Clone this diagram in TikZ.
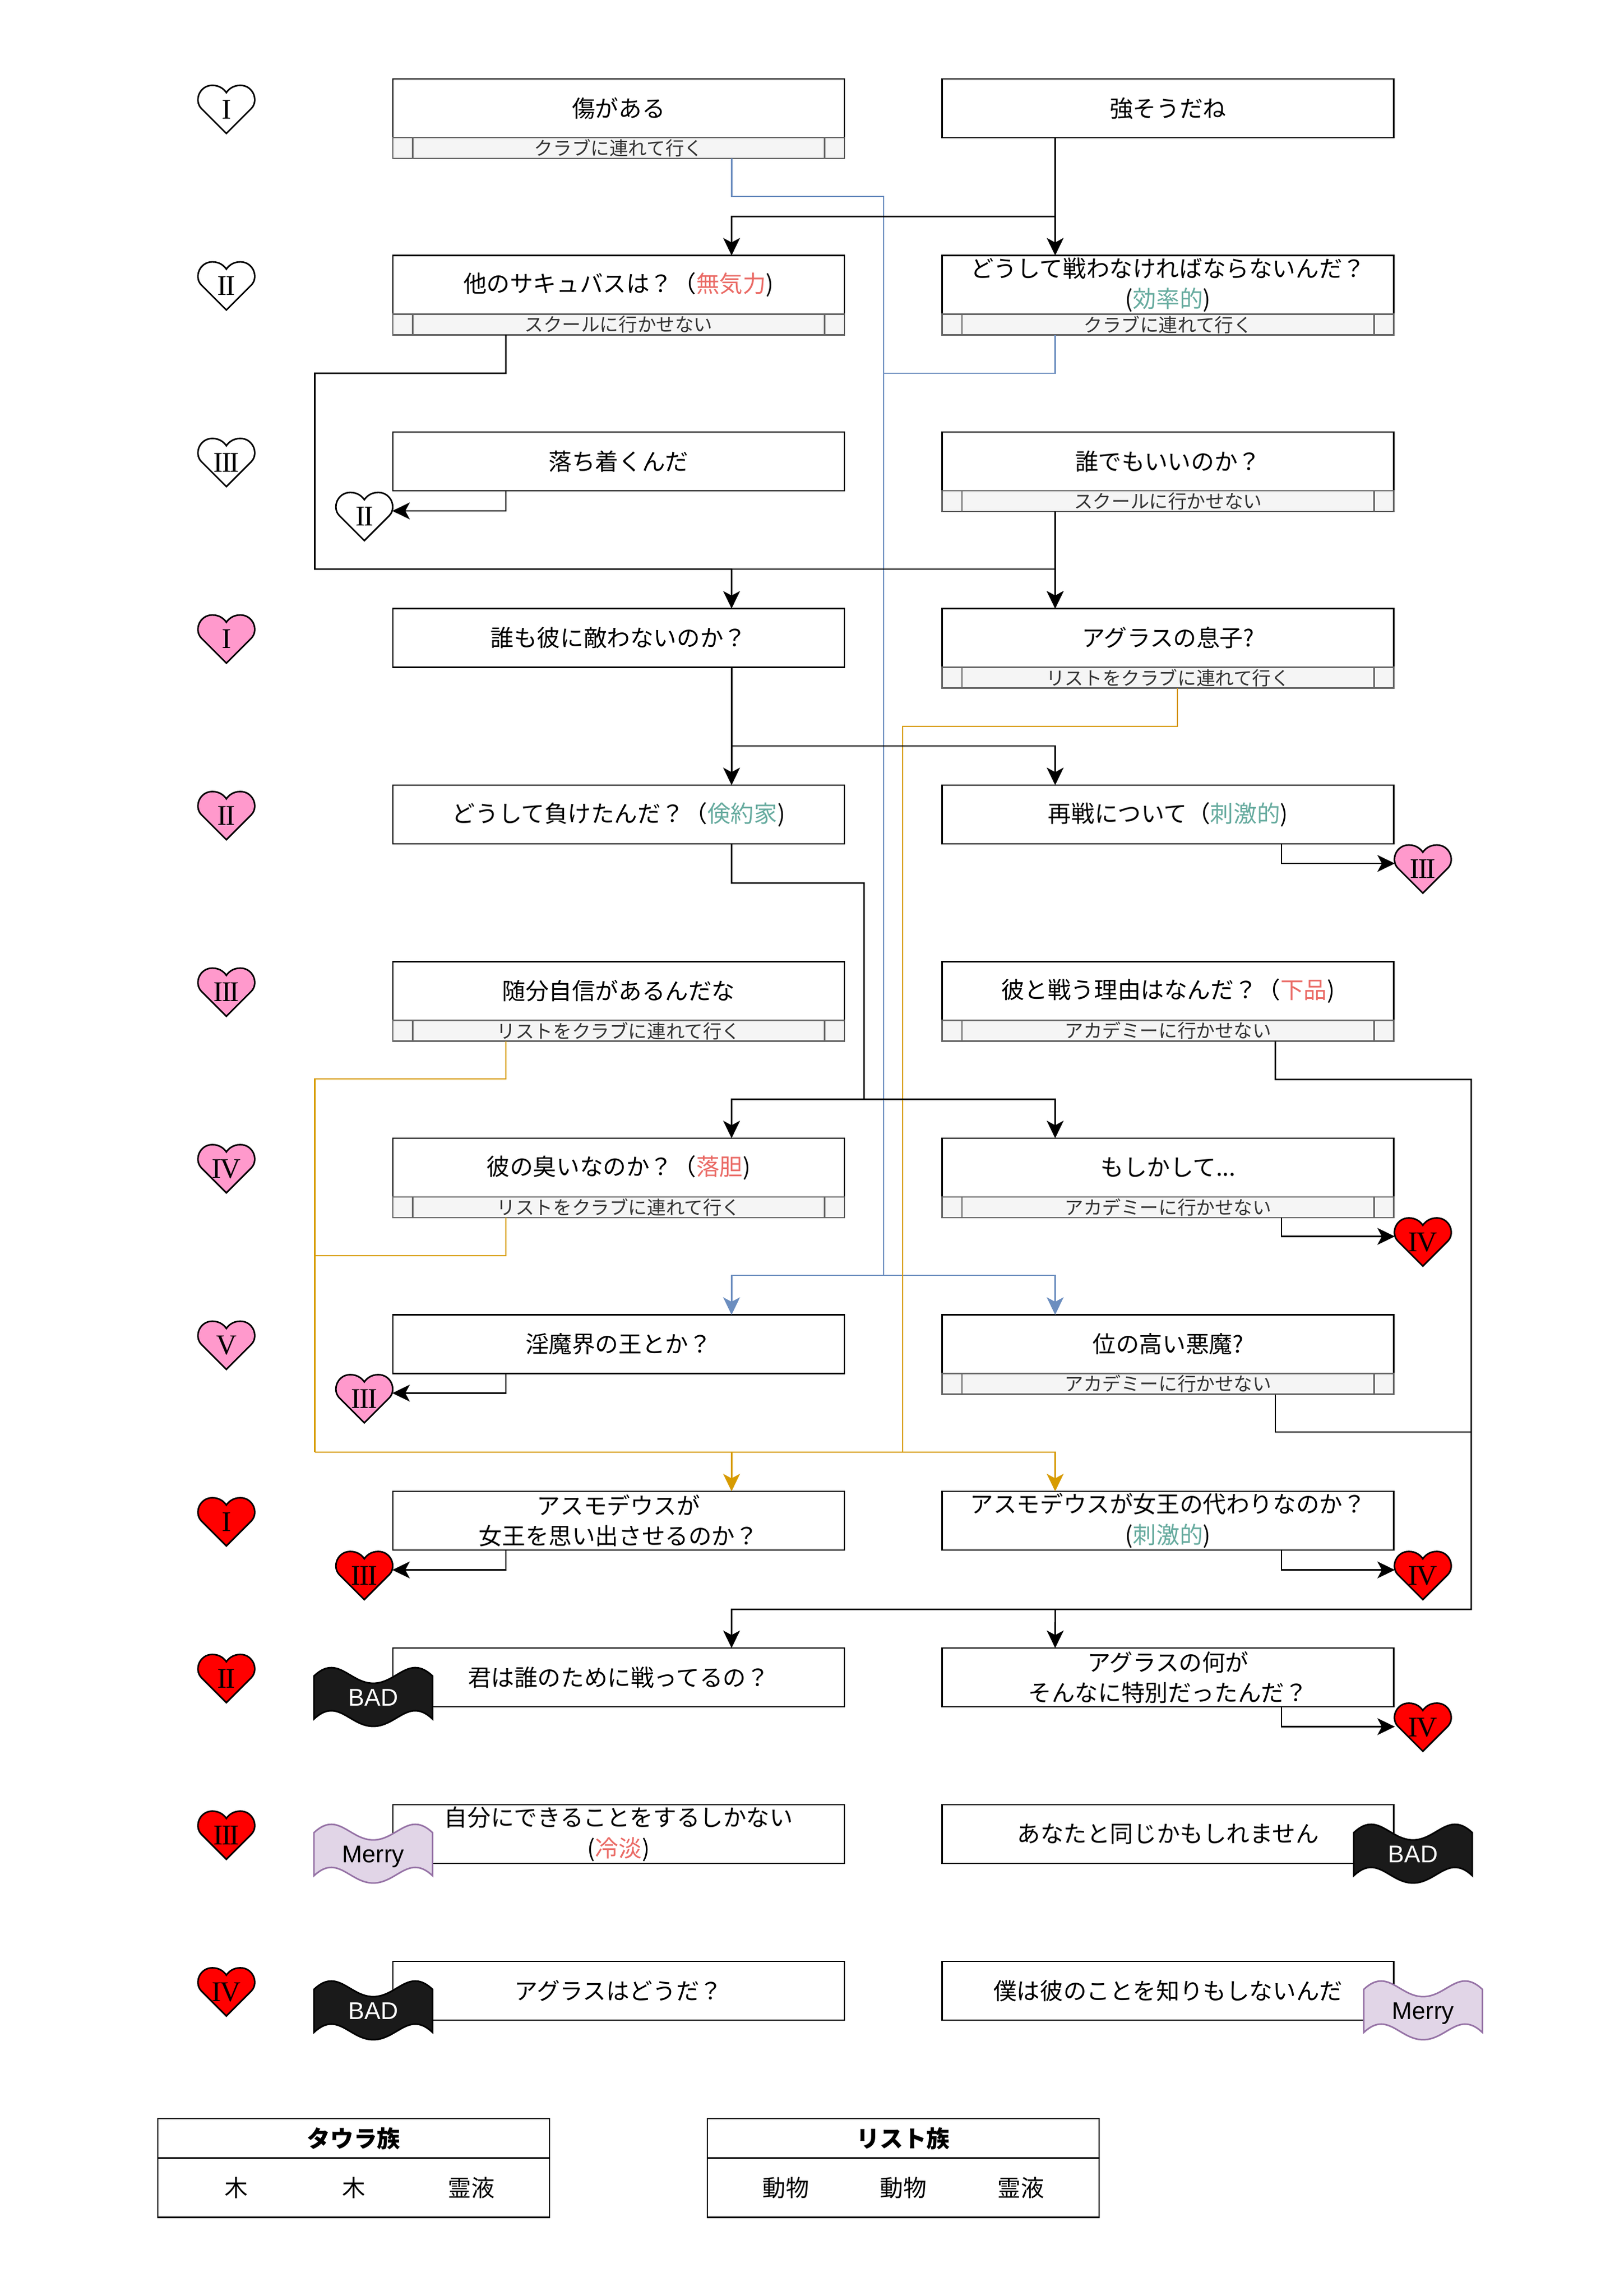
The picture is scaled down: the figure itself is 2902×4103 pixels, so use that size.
\documentclass[tikz,border=0pt]{standalone}
\usepackage{fontspec}
\usetikzlibrary{arrows.meta,positioning}
\newfontfamily\jpfont{Noto Sans CJK JP}
\newfontfamily\numfont{Liberation Serif}[LetterSpace=-4]
\newfontfamily\tagfont{Liberation Sans}

\definecolor{stripfill}{HTML}{F5F5F5}
\definecolor{stripline}{HTML}{666666}
\definecolor{striptext}{HTML}{333333}
\definecolor{linkblue}{HTML}{6C8EBF}
\definecolor{linkorange}{HTML}{D79B00}
\definecolor{heartpink}{HTML}{FF99CC}
\definecolor{heartred}{HTML}{FF0000}
\definecolor{moodteal}{HTML}{67AB9F}
\definecolor{moodred}{HTML}{EA6B66}
\definecolor{badfill}{HTML}{1A1A1A}
\definecolor{merryfill}{HTML}{E1D5E7}
\definecolor{merryline}{HTML}{9673A6}

\tikzset{
  box/.style={draw, line width=.7pt, outer sep=0pt, inner sep=0pt,
    minimum width=201.75pt, minimum height=26.25pt, align=center,
    font=\jpfont\fontsize{10.4pt}{13.6pt}\selectfont},
  strip/.style={draw=stripline, fill=stripfill, line width=.7pt, outer sep=0pt,
    inner sep=0pt, minimum width=201.75pt, minimum height=9.25pt, text=striptext,
    font=\jpfont\fontsize{8.4pt}{9pt}\selectfont,
    path picture={
      \draw[stripline, line width=.7pt] ([xshift=8.8pt]path picture bounding box.north west)
        -- ([xshift=8.8pt]path picture bounding box.south west);
      \draw[stripline, line width=.7pt] ([xshift=-8.8pt]path picture bounding box.north east)
        -- ([xshift=-8.8pt]path picture bounding box.south east);}},
  heartlabel/.style={inner sep=0pt, text depth=0pt,
    font=\numfont\fontsize{12.75pt}{14pt}\selectfont},
  taglabel/.style={inner sep=0pt, text depth=0pt,
    font=\tagfont\fontsize{10.8pt}{12pt}\selectfont},
  pics/heartpic/.style 2 args={code={
    \filldraw[fill=#1, line width=.7pt] (0,43) -- (-45,-2)
      .. controls (-58,-16) and (-48,-43) .. (-25,-43)
      .. controls (-12,-43) and (-4,-36) .. (0,-30)
      .. controls (4,-36) and (12,-43) .. (25,-43)
      .. controls (48,-43) and (58,-16) .. (45,-2) -- cycle;
    \node[heartlabel] (-n) at (0,0) {#2};}},
  pics/tape/.style n args={4}{code={
    \filldraw[fill=#1, draw=#2, line width=.7pt] (-106,-38.5)
      .. controls (-63.6,-78.5) and (-42.4,-25.5) .. (0,-25.5)
      .. controls (42.4,-25.5) and (63.6,-78.5) .. (106,-38.5) -- (106,38.5)
      .. controls (63.6,-1.5) and (42.4,51.5) .. (0,51.5)
      .. controls (-42.4,51.5) and (-63.6,-1.5) .. (-106,38.5) -- cycle;
    \node[taglabel, text=#3] (-n) at (0,0) {#4};}},
  conn/.style={line width=.7pt},
  connarr/.style={conn, -{Stealth[length=7.8pt, width=7.5pt, inset=2pt]}},
  legendcell/.style={draw, line width=.7pt, outer sep=0pt, inner sep=0pt,
    minimum width=175pt, font=\jpfont\fontsize{10.4pt}{12pt}\selectfont},
  legenditem/.style={inner sep=0pt, font=\jpfont\fontsize{10.4pt}{12pt}\selectfont}
}

\begin{document}
\begin{tikzpicture}[x=0.25pt, y=-0.25pt]
\useasboundingbox (0,0) rectangle (2902,4103);

% row hearts
\pic (hr0) at (404.5,195.5) {heartpic={white}{I}};
\pic (hr1) at (404.5,511) {heartpic={white}{II}};
\pic (hr2) at (404.5,826.5) {heartpic={white}{III}};
\pic (hr3) at (404.5,1142) {heartpic={heartpink}{I}};
\pic (hr4) at (404.5,1457.5) {heartpic={heartpink}{II}};
\pic (hr5) at (404.5,1773) {heartpic={heartpink}{III}};
\pic (hr6) at (404.5,2088.5) {heartpic={heartpink}{IV}};
\pic (hr7) at (404.5,2404) {heartpic={heartpink}{V}};
\pic (hr8) at (404.5,2719.5) {heartpic={heartred}{I}};
\pic (hr9) at (404.5,2999.5) {heartpic={heartred}{II}};
\pic (hr10) at (404.5,3279.5) {heartpic={heartred}{III}};
\pic (hr11) at (404.5,3559.5) {heartpic={heartred}{IV}};

% boxes
\node[box] (L0) at (1105.5,193.5) {傷がある};
\node[strip, below=0pt of L0] (L0s) {クラブに連れて行く};
\node[box] (R0) at (2087.25,193.5) {強そうだね};

\node[box] (L1) at (1105.5,509) {他のサキュバスは？（\textcolor{moodred}{無気力})};
\node[strip, below=0pt of L1] (L1s) {スクールに行かせない};
\node[box] (R1) at (2087.25,509) {どうして戦わなければならないんだ？\\(\textcolor{moodteal}{効率的})};
\node[strip, below=0pt of R1] (R1s) {クラブに連れて行く};

\node[box] (L2) at (1105.5,824.5) {落ち着くんだ};
\node[box] (R2) at (2087.25,824.5) {誰でもいいのか？};
\node[strip, below=0pt of R2] (R2s) {スクールに行かせない};

\node[box] (L3) at (1105.5,1140) {誰も彼に敵わないのか？};
\node[box] (R3) at (2087.25,1140) {アグラスの息子?};
\node[strip, below=0pt of R3] (R3s) {リストをクラブに連れて行く};

\node[box] (L4) at (1105.5,1455.5) {どうして負けたんだ？（\textcolor{moodteal}{倹約家})};
\node[box] (R4) at (2087.25,1455.5) {再戦について（\textcolor{moodteal}{刺激的})};

\node[box] (L5) at (1105.5,1771) {随分自信があるんだな};
\node[strip, below=0pt of L5] (L5s) {リストをクラブに連れて行く};
\node[box] (R5) at (2087.25,1771) {彼と戦う理由はなんだ？（\textcolor{moodred}{下品})};
\node[strip, below=0pt of R5] (R5s) {アカデミーに行かせない};

\node[box] (L6) at (1105.5,2086.5) {彼の臭いなのか？（\textcolor{moodred}{落胆})};
\node[strip, below=0pt of L6] (L6s) {リストをクラブに連れて行く};
\node[box] (R6) at (2087.25,2086.5) {もしかして...};
\node[strip, below=0pt of R6] (R6s) {アカデミーに行かせない};

\node[box] (L7) at (1105.5,2402) {淫魔界の王とか？};
\node[box] (R7) at (2087.25,2402) {位の高い悪魔?};
\node[strip, below=0pt of R7] (R7s) {アカデミーに行かせない};

\node[box] (L8) at (1105.5,2717.5) {アスモデウスが\\女王を思い出させるのか？};
\node[box] (R8) at (2087.25,2717.5) {アスモデウスが女王の代わりなのか？\\(\textcolor{moodteal}{刺激的})};

\node[box] (L9) at (1105.5,2997.5) {君は誰のために戦ってるの？};
\node[box] (R9) at (2087.25,2997.5) {アグラスの何が\\そんなに特別だったんだ？};

\node[box] (L10) at (1105.5,3277.5) {自分にできることをするしかない\\(\textcolor{moodred}{冷淡})};
\node[box] (R10) at (2087.25,3277.5) {あなたと同じかもしれません};

\node[box] (L11) at (1105.5,3557.5) {アグラスはどうだ？};
\node[box] (R11) at (2087.25,3557.5) {僕は彼のことを知りもしないんだ};

% hearts at the arrow ends
\pic (hL2) at (651,923) {heartpic={white}{II}};
\pic (hR4) at (2542.5,1553) {heartpic={heartpink}{III}};
\pic (hR6) at (2542.5,2219.5) {heartpic={heartred}{IV}};
\pic (hL7) at (651,2499.5) {heartpic={heartpink}{III}};
\pic (hL8) at (651,2815.5) {heartpic={heartred}{III}};
\pic (hR8) at (2542.5,2815.5) {heartpic={heartred}{IV}};
\pic (hR9) at (2542.5,3086.5) {heartpic={heartred}{IV}};

% endings
\pic (tL9) at (667,3033.5) {tape={badfill}{black}{white}{BAD}};
\pic (tL10) at (667,3313.5) {tape={merryfill}{merryline}{black}{Merry}};
\pic (tL11) at (667,3593.5) {tape={badfill}{black}{white}{BAD}};
\pic (tR10) at (2525,3313.5) {tape={badfill}{black}{white}{BAD}};
\pic (tR11) at (2543,3593.5) {tape={merryfill}{merryline}{black}{Merry}};

% bends
\coordinate (b1) at (1579,351);
\coordinate (b2) at (1579,667);
\coordinate (b3) at (1579,2279);
\coordinate (k1) at (1307.3,387);
\coordinate (k2) at (562.5,667);
\coordinate (k3) at (1307.3,1017);
\coordinate (k4) at (1307.3,1333);
\coordinate (k5) at (1544,1578);
\coordinate (k6) at (1307.3,1964.5);
\coordinate (k7) at (1544,1964.5);
\coordinate (k8) at (2629,1929);
\coordinate (k9) at (1307.3,2876);
\coordinate (k10) at (1885.7,2876);
\coordinate (k11) at (2629,2559);
\coordinate (o1) at (1613,1298);
\coordinate (o2) at (562.5,1928);
\coordinate (o3) at (562.5,2244);
\coordinate (o4) at (562.5,2595);

% blue
\draw[conn, linkblue] ([xshift=50.44pt]L0s.south) |- (b1) -- (b3);
\draw[conn, linkblue] ([xshift=-50.44pt]R1s.south) |- (b2);
\draw[connarr, linkblue] (b3) -| ([xshift=50.44pt]L7.north);
\draw[connarr, linkblue] (b3) -| ([xshift=-50.44pt]R7.north);

% orange
\draw[conn, linkorange] ([xshift=4.19pt]R3s.south) |- (o1) |- (o4);
\draw[conn, linkorange] ([xshift=-50.4pt]L5s.south) |- (o2) -- (o4);
\draw[conn, linkorange] ([xshift=-50.4pt]L6s.south) |- (o3);
\draw[connarr, linkorange] (o4) -| ([xshift=50.44pt]L8.north);
\draw[connarr, linkorange] (o4) -| ([xshift=-50.44pt]R8.north);

% black
\draw[connarr] ([xshift=-50.44pt]R0.south) -- ([xshift=-50.44pt]R1.north);
\draw[connarr] ([xshift=-50.44pt]R0.south) |- (k1) -- ([xshift=50.44pt]L1.north);
\draw[connarr] ([xshift=-50.4pt]L1s.south) |- (k2) |- (k3) -- ([xshift=50.44pt]L3.north);
\draw[connarr] (k3) -| ([xshift=-50.44pt]R3.north);
\draw[connarr] ([xshift=-50.44pt]R2s.south) -- ([xshift=-50.44pt]R3.north);
\draw[connarr] ([xshift=-50.4pt]L2.south) |- ([xshift=12.5pt,yshift=2.5pt]hL2-n.center);
\draw[connarr] ([xshift=50.44pt]L3.south) -- ([xshift=50.44pt]L4.north);
\draw[connarr] (k4) -| ([xshift=-50.44pt]R4.north);
\draw[connarr] ([xshift=50.7pt]R4.south) |- ([xshift=-12.5pt,yshift=2.5pt]hR4-n.center);
\draw[connarr] ([xshift=50.44pt]L4.south) |- (k5) |- (k6) -- ([xshift=50.44pt]L6.north);
\draw[connarr] (k7) -| ([xshift=-50.44pt]R6.north);
\draw[connarr] ([xshift=50.7pt]R6s.south) |- ([xshift=-12.5pt,yshift=2.5pt]hR6-n.center);
\draw[connarr] ([xshift=-50.4pt]L7.south) |- ([xshift=12.5pt,yshift=2.5pt]hL7-n.center);
\draw[connarr] ([xshift=47.94pt]R5s.south) |- (k8) |- (k9) -- ([xshift=50.44pt]L9.north);
\draw[conn] ([xshift=47.94pt]R7s.south) |- (k11);
\draw[connarr] (k10) -- ([xshift=-50.44pt]R9.north);
\draw[connarr] ([xshift=-50.4pt]L8.south) |- ([xshift=12.5pt,yshift=2.5pt]hL8-n.center);
\draw[connarr] ([xshift=50.7pt]R8.south) |- ([xshift=-12.5pt,yshift=2.5pt]hR8-n.center);
\draw[connarr] ([xshift=50.7pt]R9.south) |- ([xshift=-12.5pt,yshift=.25pt]hR9-n.center);

% legend
\node[legendcell, minimum height=17.7pt, font=\jpfont\bfseries\fontsize{10.4pt}{12pt}\selectfont] (tauHead) at (632,3821.3) {タウラ族};
\node[legendcell, minimum height=26.5pt, below=0pt of tauHead] (tauBody) {};
\node[legenditem] (tau1) at (422,3909.7) {木};
\node[legenditem] (tau2) at (632,3909.7) {木};
\node[legenditem] (tau3) at (842,3909.7) {霊液};

\node[legendcell, minimum height=17.7pt, font=\jpfont\bfseries\fontsize{10.4pt}{12pt}\selectfont] (lisHead) at (1614,3821.3) {リスト族};
\node[legendcell, minimum height=26.5pt, below=0pt of lisHead] (lisBody) {};
\node[legenditem] (lis1) at (1404,3909.7) {動物};
\node[legenditem] (lis2) at (1614,3909.7) {動物};
\node[legenditem] (lis3) at (1824,3909.7) {霊液};
\end{tikzpicture}
\end{document}
